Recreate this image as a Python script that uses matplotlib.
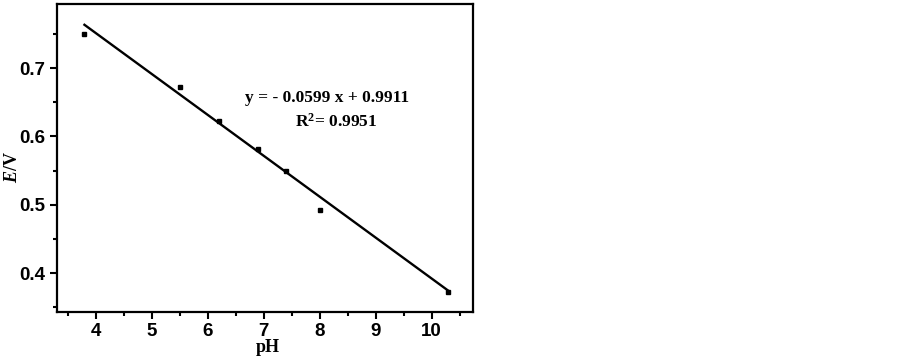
import numpy as np
import matplotlib
matplotlib.use("Agg")
import matplotlib.pyplot as plt
from matplotlib.ticker import MultipleLocator

# data
ph = [3.8, 5.5, 6.2, 6.9, 7.4, 8.0, 10.3]
potential = [0.750, 0.673, 0.622, 0.582, 0.549, 0.493, 0.372]
slope = -0.0599
intercept = 0.9911
eq_text = "y = - 0.0599 x + 0.9911"
r2_text = "R$^2$= 0.9951"

plt.rcParams["mathtext.fontset"] = "custom"
plt.rcParams["mathtext.it"] = "Liberation Serif:italic:bold"
plt.rcParams["mathtext.bf"] = "Liberation Serif:bold"
plt.rcParams["mathtext.rm"] = "Liberation Serif:bold"

fig = plt.figure(figsize=(9.02, 3.57), dpi=100)
ax = fig.add_axes([0.0632, 0.126, 0.4612, 0.863])

ax.plot(ph, potential, "s", color="black", markersize=3.2, zorder=3)
xfit = np.array([ph[0], ph[-1]])
ax.plot(xfit, slope * xfit + intercept, color="black", linewidth=1.7)

ax.set_xlim(3.31, 10.74)
ax.set_ylim(0.343, 0.794)
ax.xaxis.set_major_locator(MultipleLocator(1))
ax.xaxis.set_minor_locator(MultipleLocator(0.5))
ax.yaxis.set_major_locator(MultipleLocator(0.1))
ax.yaxis.set_minor_locator(MultipleLocator(0.05))

for s in ax.spines.values():
    s.set_linewidth(1.6)
ax.tick_params(which="major", direction="out", length=5, width=1.5)
ax.tick_params(which="minor", direction="out", length=3, width=1.5)
ax.tick_params(axis="x", which="both", top=False, pad=3)
ax.tick_params(axis="y", which="both", right=False)

for lab in ax.get_xticklabels() + ax.get_yticklabels():
    lab.set_fontfamily("Liberation Sans")
    lab.set_fontweight("bold")
    lab.set_fontsize(13.5)

ax.set_xlabel("pH", family="Liberation Serif", weight="bold", fontsize=13)
ax.xaxis.set_label_coords(0.507, -0.088)
ax.set_ylabel(r"$\mathit{E}$/V", family="Liberation Serif", weight="bold", fontsize=13)
ax.yaxis.set_label_coords(-0.087, 0.47)

ax.text(8.13, 0.656, eq_text, family="Liberation Serif", weight="bold",
        fontsize=12.5, ha="center", va="center")
ax.text(8.29, 0.621, r2_text, family="Liberation Serif", weight="bold",
        fontsize=12.5, ha="center", va="center")

fig.savefig("out.png", dpi=100)
